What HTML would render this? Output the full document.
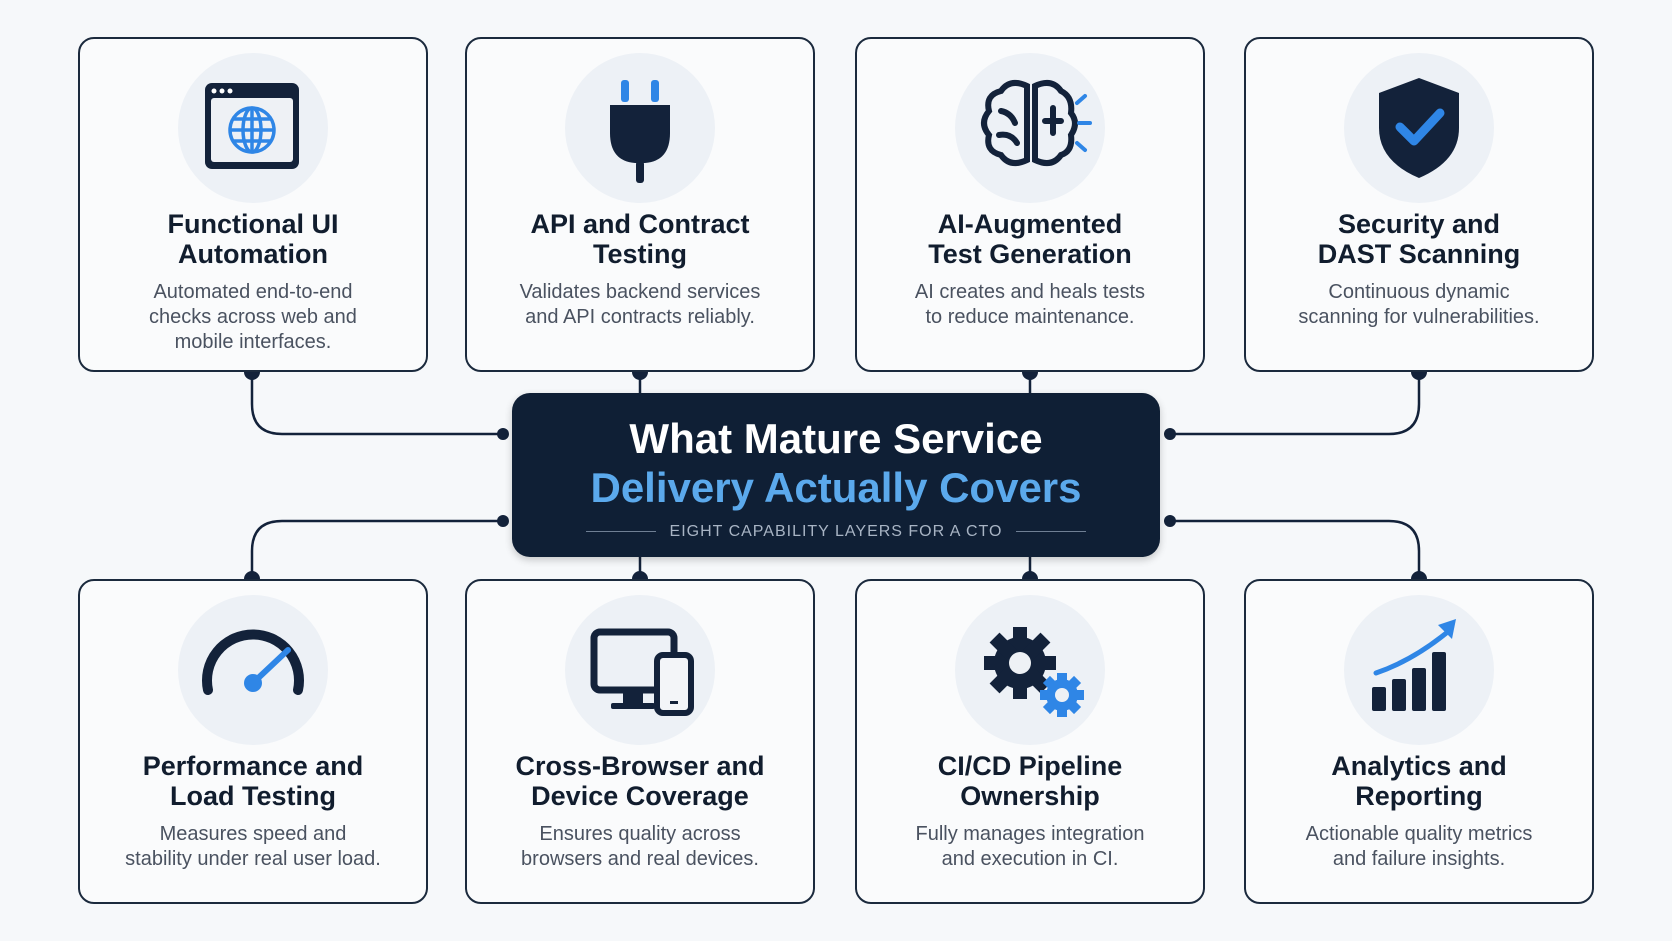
<!DOCTYPE html>
<html><head><meta charset="utf-8"><style>
*{margin:0;padding:0;box-sizing:border-box}
body{width:1672px;height:941px;background:#f6f8fa;font-family:"Liberation Sans",sans-serif;position:relative;overflow:hidden}
.card{position:absolute;width:350px;background:#fafbfc;border:2.5px solid #1b2a3d;border-radius:16px;display:flex;flex-direction:column;align-items:center;text-align:center}
.ic{margin-top:14px;width:150px;height:150px;border-radius:50%;background:#edf1f6}
.ic svg{width:150px;height:150px}
.t{margin-top:6px;font-weight:bold;font-size:27px;line-height:30px;color:#111d2e}
.d{margin-top:11px;font-size:20px;line-height:25px;color:#4a5260}
.center{position:absolute;left:512px;top:393px;width:648px;height:164px;background:#0f1f35;border-radius:18px;text-align:center;box-shadow:0 3px 8px rgba(0,0,0,.2)}
.c1{position:absolute;top:22px;width:100%;font-weight:bold;font-size:42px;line-height:48px;color:#fff}
.c2{position:absolute;top:71px;width:100%;font-weight:bold;font-size:42px;line-height:48px;color:#5ba9ec}
.c3{position:absolute;top:130px;width:100%;font-size:16px;letter-spacing:1px;color:#a8b4c4}
.c3:before,.c3:after{content:"";display:inline-block;width:70px;height:1px;background:#6f7f94;vertical-align:middle;margin:0 14px}
svg.lines{position:absolute;left:0;top:0}
</style></head><body>
<svg class="lines" width="1672" height="941" fill="none" stroke="#13223a" stroke-width="2.5">
<path d="M252 372 V404 Q252 434 282 434 H503"/>
<path d="M1419 372 V404 Q1419 434 1389 434 H1170"/>
<path d="M252 579 V551 Q252 521 282 521 H503"/>
<path d="M1419 579 V551 Q1419 521 1389 521 H1170"/>
<path d="M640 372 V393 M1030 372 V393 M640 557 V579 M1030 557 V579"/>
<g fill="#13223a" stroke="none">
<circle cx="252" cy="372" r="8"/><circle cx="640" cy="372" r="8"/><circle cx="1030" cy="372" r="8"/><circle cx="1419" cy="372" r="8"/>
<circle cx="252" cy="579" r="8"/><circle cx="640" cy="579" r="8"/><circle cx="1030" cy="579" r="8"/><circle cx="1419" cy="579" r="8"/>
<circle cx="503" cy="434" r="6"/><circle cx="1170" cy="434" r="6"/><circle cx="503" cy="521" r="6"/><circle cx="1170" cy="521" r="6"/>
</g>
</svg>

<div class="card" style="left:78px;top:37px;height:335px">
<div class="ic"><svg viewBox="0 0 150 150"><rect x="27" y="30" width="94" height="86" rx="7" fill="#13223a"/><rect x="33" y="45" width="82" height="64" rx="3" fill="#eef1f5"/><circle cx="36" cy="38" r="2.5" fill="#fff"/><circle cx="44" cy="38" r="2.5" fill="#fff"/><circle cx="52" cy="38" r="2.5" fill="#fff"/><g stroke="#2f86e6" stroke-width="3.5" fill="none"><circle cx="74" cy="77" r="22"/><ellipse cx="74" cy="77" rx="9" ry="22"/><line x1="52" y1="77" x2="96" y2="77"/><line x1="74" y1="55" x2="74" y2="99"/><line x1="56" y1="66" x2="92" y2="66"/><line x1="56" y1="88" x2="92" y2="88"/></g></svg></div>
<div class="t">Functional UI<br>Automation</div>
<div class="d">Automated end-to-end<br>checks across web and<br>mobile interfaces.</div></div>

<div class="card" style="left:465px;top:37px;height:335px">
<div class="ic"><svg viewBox="0 0 150 150"><rect x="56" y="27" width="8" height="22" rx="3" fill="#2f86e6"/><rect x="86" y="27" width="8" height="22" rx="3" fill="#2f86e6"/><path d="M45 52 H105 V80 Q105 108 80 110 H70 Q45 108 45 80Z" fill="#13223a"/><rect x="71" y="108" width="8" height="22" rx="3" fill="#13223a"/></svg></div>
<div class="t">API and Contract<br>Testing</div>
<div class="d">Validates backend services<br>and API contracts reliably.</div></div>

<div class="card" style="left:855px;top:37px;height:335px">
<div class="ic"><svg viewBox="0 0 150 150"><g fill="none" stroke="#13223a" stroke-width="6" stroke-linecap="round"><path d="M72 33 Q55 25 46 38 Q30 42 34 58 Q24 70 34 82 Q30 98 46 102 Q55 115 72 107Z"/><path d="M80 33 Q97 25 106 38 Q118 44 116 60 Q124 70 116 82 Q118 98 106 102 Q97 115 80 107Z"/><path d="M46 58 Q56 60 60 70 M44 82 Q56 80 62 90 M98 55 V80 M90 68 H106"/></g><g stroke="#2f86e6" stroke-width="4" stroke-linecap="round"><line x1="122" y1="50" x2="130" y2="43"/><line x1="124" y1="70" x2="135" y2="70"/><line x1="122" y1="90" x2="130" y2="97"/></g></svg></div>
<div class="t">AI-Augmented<br>Test Generation</div>
<div class="d">AI creates and heals tests<br>to reduce maintenance.</div></div>

<div class="card" style="left:1244px;top:37px;height:335px">
<div class="ic"><svg viewBox="0 0 150 150"><path d="M75 25 L115 40 V75 Q115 108 75 125 Q35 108 35 75 V40Z" fill="#13223a"/><path d="M56 74 L70 88 L96 60" fill="none" stroke="#2f86e6" stroke-width="9" stroke-linecap="round" stroke-linejoin="round"/></svg></div>
<div class="t">Security and<br>DAST Scanning</div>
<div class="d">Continuous dynamic<br>scanning for vulnerabilities.</div></div>

<div class="card" style="left:78px;top:579px;height:325px">
<div class="ic"><svg viewBox="0 0 150 150"><path d="M30 95 A46 46 0 1 1 120 95" fill="none" stroke="#13223a" stroke-width="10" stroke-linecap="round"/><line x1="75" y1="88" x2="110" y2="55" stroke="#2f86e6" stroke-width="6" stroke-linecap="round"/><circle cx="75" cy="88" r="9" fill="#2f86e6"/></svg></div>
<div class="t">Performance and<br>Load Testing</div>
<div class="d">Measures speed and<br>stability under real user load.</div></div>

<div class="card" style="left:465px;top:579px;height:325px">
<div class="ic"><svg viewBox="0 0 150 150"><rect x="29" y="37" width="80" height="58" rx="6" fill="none" stroke="#13223a" stroke-width="7"/><rect x="58" y="95" width="20" height="14" fill="#13223a"/><rect x="46" y="108" width="44" height="6" rx="2" fill="#13223a"/><rect x="92" y="60" width="34" height="58" rx="6" fill="#f3f5f8" stroke="#13223a" stroke-width="6"/><rect x="105" y="106" width="8" height="3" fill="#13223a"/></svg></div>
<div class="t">Cross-Browser and<br>Device Coverage</div>
<div class="d">Ensures quality across<br>browsers and real devices.</div></div>

<div class="card" style="left:855px;top:579px;height:325px">
<div class="ic"><svg viewBox="0 0 150 150"><g transform="translate(65,68)"><circle r="26" fill="#13223a"/><g fill="#13223a"><rect x="-7" y="-36" width="14" height="72"/><rect x="-36" y="-7" width="72" height="14"/><rect x="-7" y="-36" width="14" height="72" transform="rotate(45)"/><rect x="-7" y="-36" width="14" height="72" transform="rotate(-45)"/></g><circle r="11" fill="#eef1f5"/></g><g transform="translate(107,100)"><circle r="16" fill="#2f86e6"/><g fill="#2f86e6"><rect x="-5" y="-22" width="10" height="44"/><rect x="-22" y="-5" width="44" height="10"/><rect x="-5" y="-22" width="10" height="44" transform="rotate(45)"/><rect x="-5" y="-22" width="10" height="44" transform="rotate(-45)"/></g><circle r="7" fill="#eef1f5"/></g></svg></div>
<div class="t">CI/CD Pipeline<br>Ownership</div>
<div class="d">Fully manages integration<br>and execution in CI.</div></div>

<div class="card" style="left:1244px;top:579px;height:325px">
<div class="ic"><svg viewBox="0 0 150 150"><g fill="#13223a"><rect x="28" y="92" width="14" height="24" rx="2"/><rect x="48" y="84" width="14" height="32" rx="2"/><rect x="68" y="73" width="14" height="43" rx="2"/><rect x="88" y="57" width="14" height="59" rx="2"/></g><path d="M32 78 Q70 65 106 35" fill="none" stroke="#2f86e6" stroke-width="5" stroke-linecap="round"/><path d="M94 30 L112 24 L108 44Z" fill="#2f86e6"/></svg></div>
<div class="t">Analytics and<br>Reporting</div>
<div class="d">Actionable quality metrics<br>and failure insights.</div></div>

<div class="center">
<div class="c1">What Mature Service</div>
<div class="c2">Delivery Actually Covers</div>
<div class="c3">EIGHT CAPABILITY LAYERS FOR A CTO</div>
</div>
</body></html>
